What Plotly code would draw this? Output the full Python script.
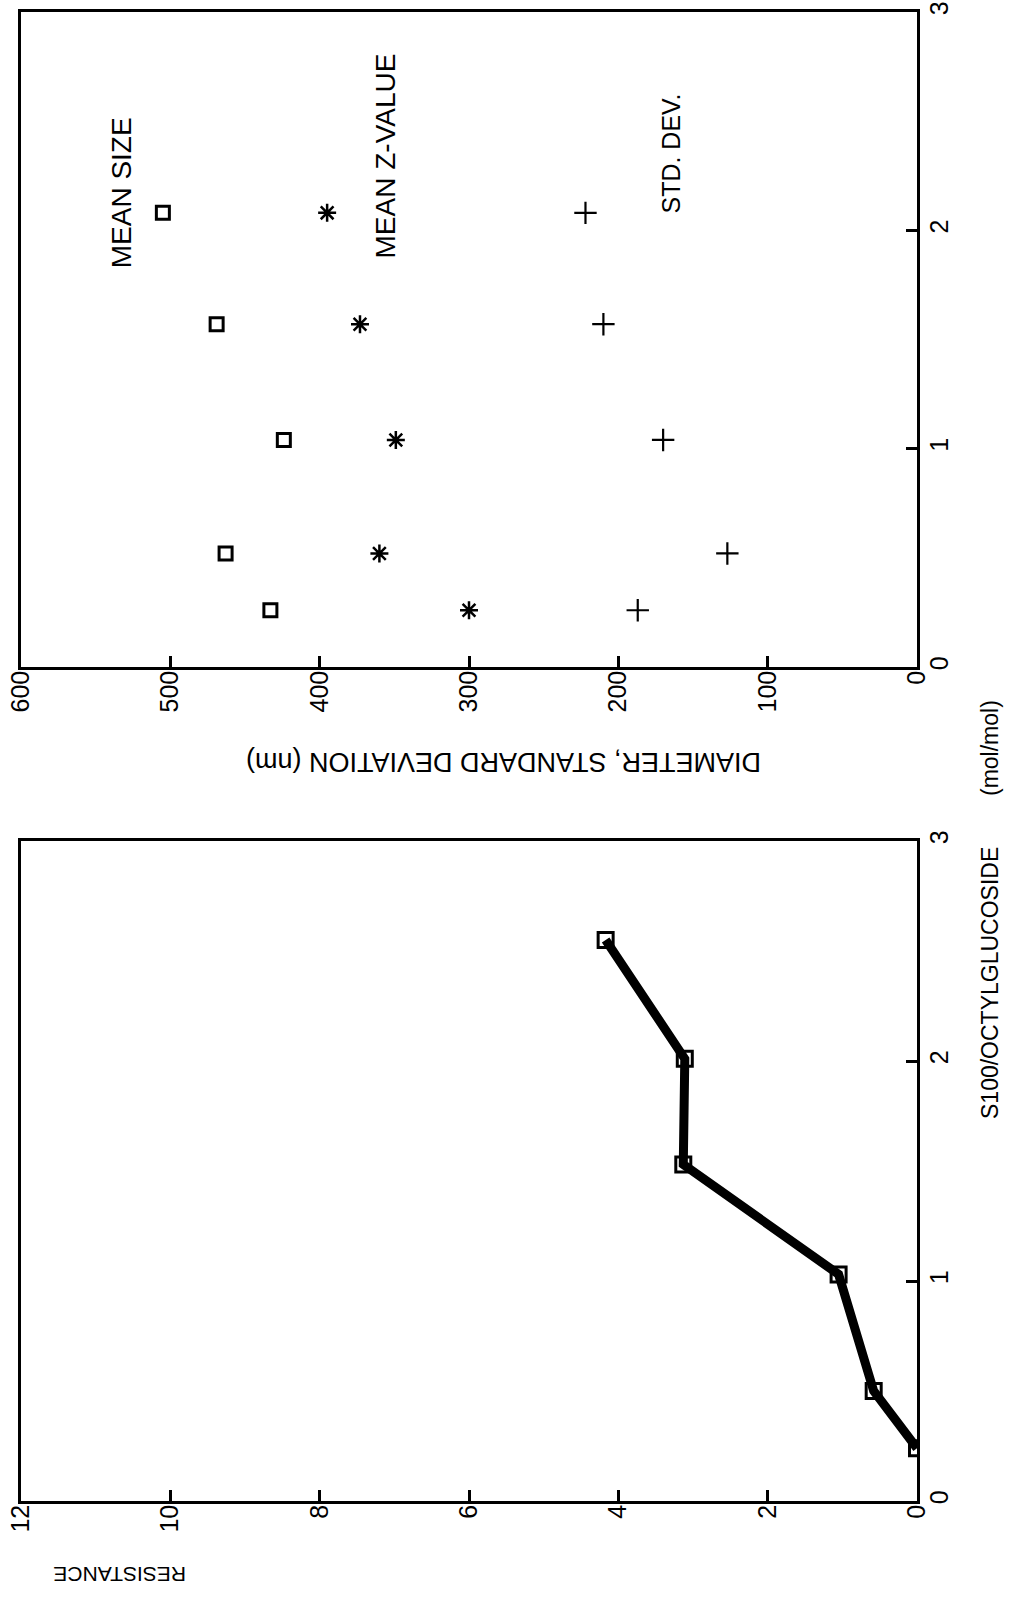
import plotly.graph_objects as go

# ---------------- data ----------------
# Upper panel: diameter / standard deviation (nm) vs S100/octylglucoside (mol/mol)
ratio_top = [0.26, 0.52, 1.04, 1.57, 2.08]
mean_size = [433, 463, 424, 469, 505]
mean_z = [300, 360, 349, 373, 395]
std_dev = [187, 127, 170, 210, 222]

# Lower panel: resistance vs S100/octylglucoside (mol/mol)
ratio_bottom = [0.24, 0.50, 1.03, 1.53, 2.01, 2.55]
resistance = [0.0, 0.58, 1.05, 3.13, 3.11, 4.17]

diam_ticks = [0, 100, 200, 300, 400, 500, 600]
res_ticks = [0, 2, 4, 6, 8, 10, 12]
ratio_ticks = [0, 1, 2, 3]

FONT = "Liberation Sans, Arial, Helvetica, sans-serif"
W, H = 1013, 1614

fig = go.Figure()

# upper panel
fig.add_trace(go.Scatter(x=mean_size, y=ratio_top, mode="markers", xaxis="x", yaxis="y",
                         marker=dict(symbol="square-open", size=13, color="black",
                                     line=dict(width=3, color="black")), showlegend=False))
fig.add_trace(go.Scatter(x=mean_z, y=ratio_top, mode="markers", xaxis="x", yaxis="y",
                         marker=dict(symbol="asterisk-open", size=15, color="black",
                                     line=dict(width=2.5, color="black")), showlegend=False))
fig.add_trace(go.Scatter(x=std_dev, y=ratio_top, mode="markers", xaxis="x", yaxis="y",
                         marker=dict(symbol="cross-thin-open", size=16, color="black",
                                     line=dict(width=2.2, color="black")), showlegend=False))

# lower panel
fig.add_trace(go.Scatter(x=resistance, y=ratio_bottom, mode="lines+markers", xaxis="x2", yaxis="y2",
                         line=dict(color="black", width=9),
                         marker=dict(symbol="square-open", size=15, color="black",
                                     line=dict(width=3, color="black")), showlegend=False))

xdom = [21 / W, 917 / W]
top_dom = [1 - 667 / H, 1 - 12 / H]
bot_dom = [1 - 1501 / H, 1 - 841 / H]

axis_common = dict(showgrid=False, zeroline=False, showline=True, linecolor="black",
                   linewidth=2.5, mirror=True, ticks="inside", ticklen=11, tickwidth=2.5,
                   tickcolor="black", tickangle=-90, automargin=False,
                   tickfont=dict(family=FONT, size=25, color="black"))

fig.update_layout(
    width=W, height=H,
    margin=dict(l=0, r=0, t=0, b=0, autoexpand=False),
    paper_bgcolor="white", plot_bgcolor="white",
    font=dict(family=FONT, color="black"),
    xaxis=dict(domain=xdom, range=[600, 0], tickvals=diam_ticks, anchor="y",
               ticklabelstandoff=-9, **axis_common),
    yaxis=dict(domain=top_dom, range=[0, 3], tickvals=ratio_ticks, side="right", anchor="x",
               ticklabelstandoff=-2, **axis_common),
    xaxis2=dict(domain=xdom, range=[12, 0], tickvals=res_ticks, anchor="y2",
                ticklabelstandoff=-9, **axis_common),
    yaxis2=dict(domain=bot_dom, range=[0, 3], tickvals=ratio_ticks, side="right", anchor="x2",
                ticklabelstandoff=-2, **axis_common),
)

def f(size):
    return dict(family=FONT, size=size, color="black")

common_ann = dict(showarrow=False, xanchor="center", yanchor="middle")
annotations = [
    # in-plot labels (data coords of upper panel)
    dict(text="MEAN SIZE", x=533, y=2.17, xref="x", yref="y", textangle=-90, font=f(28), **common_ann),
    dict(text="MEAN Z-VALUE", x=356, y=2.34, xref="x", yref="y", textangle=-90, font=f(28), **common_ann),
    dict(text="STD. DEV.", x=165, y=2.35, xref="x", yref="y", textangle=-90, font=f(25), **common_ann),
    # axis titles
    dict(text="DIAMETER, STANDARD DEVIATION (nm)", x=504 / W, y=1 - 762 / H, xref="paper", yref="paper",
         textangle=180, font=f(27), **common_ann),
    dict(text="(mol/mol)", x=990 / W, y=1 - 748 / H, xref="paper", yref="paper",
         textangle=-90, font=f(23), **common_ann),
    dict(text="S100/OCTYLGLUCOSIDE", x=990 / W, y=1 - 983 / H, xref="paper", yref="paper",
         textangle=-90, font=f(23), **common_ann),
    dict(text="RESISTANCE", x=120 / W, y=1 - 1575 / H, xref="paper", yref="paper",
         textangle=180, font=f(21), **common_ann),
]
fig.update_layout(annotations=annotations)

fig.write_html("out.html", post_script="document.body.style.margin='0';",
               config={"displayModeBar": False})
